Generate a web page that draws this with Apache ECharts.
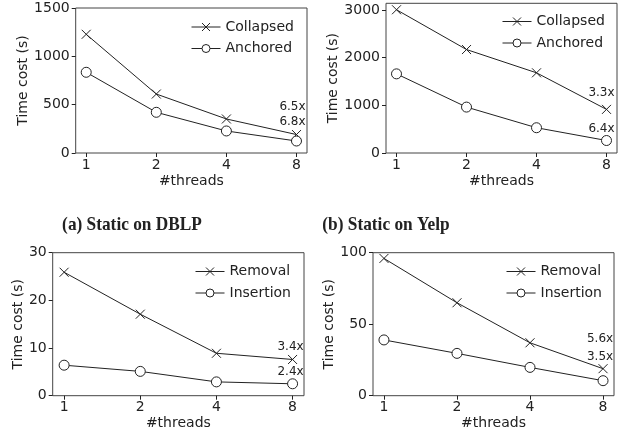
<!DOCTYPE html>
<html><head><meta charset="utf-8">
<script src="https://cdn.jsdelivr.net/npm/echarts@6/dist/echarts.min.js"></script>
<style>html,body{margin:0;padding:0;background:#fff}#c{width:638px;height:436px}</style>
</head><body><div id="c"></div>
<script>
const threads = ["1", "2", "4", "8"];
// (a) Static on DBLP
const dblpCollapsed = [1228, 610, 352, 191];
const dblpAnchored = [835, 421, 228, 124];
const dblpSpeedup = ["6.5x", "6.8x"];
// (b) Static on Yelp
const yelpCollapsed = [3005, 2170, 1682, 915];
const yelpAnchored = [1660, 963, 530, 262];
const yelpSpeedup = ["3.3x", "6.4x"];
// (c) dynamic, left
const cRemoval = [25.9, 17.1, 8.9, 7.6];
const cInsertion = [6.4, 5.1, 2.9, 2.5];
const cSpeedup = ["3.4x", "2.4x"];
// (d) dynamic, right
const dRemoval = [96, 65, 37, 18.9];
const dInsertion = [39, 29.6, 19.8, 10.5];
const dSpeedup = ["5.6x", "3.5x"];
const yTicksA = [0, 500, 1000, 1500];
const yTicksB = [0, 1000, 2000, 3000];
const yTicksC = [0, 10, 20, 30];
const yTicksD = [0, 50, 100];
const captions = ["(a) Static on DBLP", "(b) Static on Yelp"];

const ink = '#222';
const FONT = 'DejaVu Sans';
const crossPath = 'path://M0,0L10,10M10,0L0,10';

const grids = [
  {left: 75.7, right: 331, top: 8, bottom: 283},
  {left: 386, right: 21, top: 3.3, bottom: 283},
  {left: 52.7, right: 334, top: 252.7, bottom: 40.3},
  {left: 373, right: 24, top: 252.7, bottom: 40.3}
].map(g => Object.assign({show: true, borderColor: '#444', borderWidth: 1, backgroundColor: 'transparent'}, g));

function xAxis(i) {
  return {
    type: 'value', gridIndex: i, min: -0.15, max: 3.15,
    name: '#threads', nameLocation: 'middle', nameGap: 21,
    nameTextStyle: {color: ink, fontSize: 14, fontFamily: FONT},
    axisLine: {show: false, onZero: false},
    splitLine: {show: false},
    axisTick: {show: true, length: 4, inside: false, lineStyle: {color: ink}, customValues: [0, 1, 2, 3]},
    axisLabel: {color: ink, fontSize: 14, fontFamily: FONT, margin: 5, customValues: [0, 1, 2, 3],
      formatter: v => threads[Math.round(v)]}
  };
}
function yAxis(i, max, ticks, gap) {
  return {
    type: 'value', gridIndex: i, min: 0, max: max,
    name: 'Time cost (s)', nameLocation: 'middle', nameGap: gap, nameRotate: 90,
    nameTextStyle: {color: ink, fontSize: 14, fontFamily: FONT},
    axisLine: {show: false, onZero: false},
    splitLine: {show: false},
    axisTick: {show: true, length: 4, lineStyle: {color: ink}, customValues: ticks},
    axisLabel: {color: ink, fontSize: 14, fontFamily: FONT, margin: 6, customValues: ticks,
      formatter: v => String(v)}
  };
}

function mkData(vals, label, off) {
  return vals.map((v, k) => {
    const d = {value: [k, v]};
    if (k === vals.length - 1) {
      d.label = {show: true, position: 'inside', offset: off, formatter: label,
        color: ink, fontSize: 12, fontFamily: FONT, align: 'center', verticalAlign: 'middle'};
    }
    return d;
  });
}
function series(name, i, vals, isCross, label, off) {
  return {
    name: name, type: 'line', xAxisIndex: i, yAxisIndex: i,
    data: mkData(vals, label, off),
    symbol: isCross ? crossPath : 'circle',
    symbolSize: isCross ? 9 : 10,
    showAllSymbol: true,
    lineStyle: {color: ink, width: 1},
    itemStyle: {color: isCross ? 'rgba(0,0,0,0)' : '#fff', borderColor: ink, borderWidth: 1},
    emphasis: {disabled: true},
    animation: false,
    z: 3
  };
}

function legend(names, left, top) {
  return {
    data: names, left: left, top: top, orient: 'vertical', padding: 0,
    itemWidth: 29, itemHeight: 10, itemGap: 7.5,
    textStyle: {color: ink, fontSize: 14, fontFamily: FONT},
    lineStyle: {width: 1},
    itemStyle: {borderWidth: 1},
    selectedMode: false
  };
}

function caption(text, x) {
  return {
    type: 'text', x: x, y: 225.5, scaleX: 0.91,
    style: {text: text, fill: '#222', font: 'bold 19px "Liberation Serif"',
      textAlign: 'center', textVerticalAlign: 'middle'}
  };
}

const option = {
  animation: false,
  backgroundColor: '#fff',
  grid: grids,
  xAxis: [xAxis(0), xAxis(1), xAxis(2), xAxis(3)],
  yAxis: [yAxis(0, 1500, yTicksA, 38), yAxis(1, 3140, yTicksB, 40), yAxis(2, 30, yTicksC, 19), yAxis(3, 100, yTicksD, 31)],
  legend: [
    legend(['Collapsed', 'Anchored'], 191, 20),
    legend([{name: 'Collapsed '}, {name: 'Anchored '}], 502, 14.5),
    legend(['Removal', 'Insertion'], 195, 264.5),
    legend([{name: 'Removal '}, {name: 'Insertion '}], 506, 264.5)
  ],
  graphic: [caption(captions[0], 132), caption(captions[1], 386)],
  series: [
    series('Collapsed', 0, dblpCollapsed, true, dblpSpeedup[0], [-4, -28]),
    series('Anchored', 0, dblpAnchored, false, dblpSpeedup[1], [-4, -19]),
    series('Collapsed ', 1, yelpCollapsed, true, yelpSpeedup[0], [-5, -17]),
    series('Anchored ', 1, yelpAnchored, false, yelpSpeedup[1], [-5, -12]),
    series('Removal', 2, cRemoval, true, cSpeedup[0], [-2, -13]),
    series('Insertion', 2, cInsertion, false, cSpeedup[1], [-2, -12]),
    series('Removal ', 3, dRemoval, true, dSpeedup[0], [-3, -30]),
    series('Insertion ', 3, dInsertion, false, dSpeedup[1], [-3, -24])
  ]
};
const chart = echarts.init(document.getElementById('c'), null, {renderer: 'canvas'});
chart.setOption(option);
</script></body></html>
